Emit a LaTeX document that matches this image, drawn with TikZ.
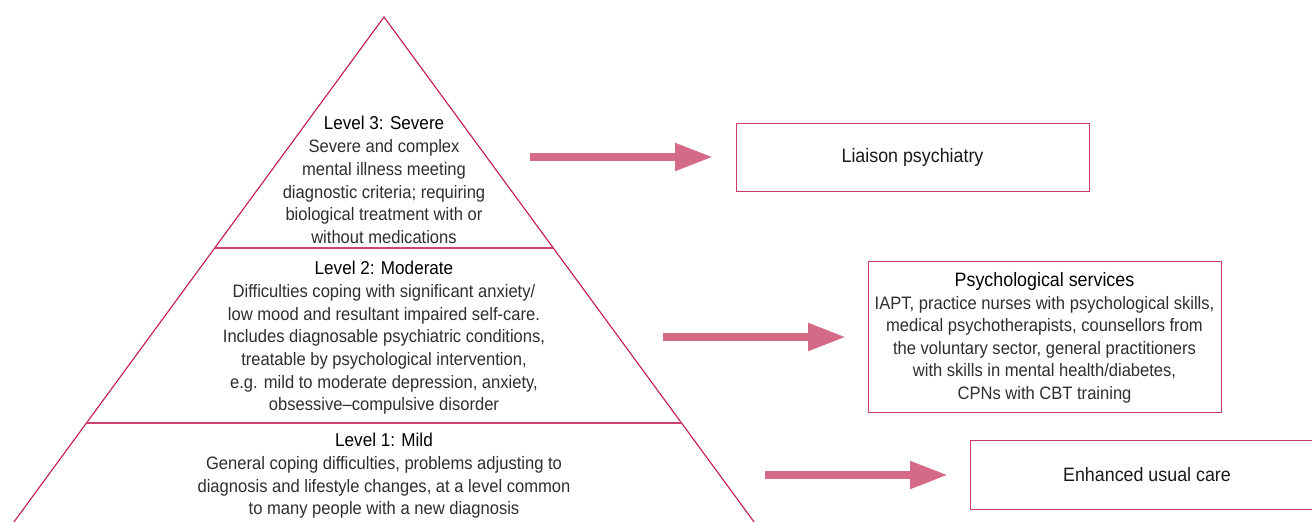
\documentclass[tikz,border=0pt]{standalone}
\usepackage{fontspec}
\setmainfont{Liberation Sans}[FakeStretch=0.92]
\usetikzlibrary{arrows.meta}
\definecolor{triline}{RGB}{198,24,78}
\definecolor{sepline}{RGB}{206,70,110}
\definecolor{arrowpink}{RGB}{212,106,136}
\definecolor{boxline}{RGB}{204,60,104}
\newcommand{\lvltitle}[1]{{\fontsize{18.6}{22.7}\selectfont\color{black}#1}}
\tikzset{
  leveltext/.style={align=center, font=\fontsize{18}{22.7}\selectfont, inner sep=0pt, text=black!82},
  boxtext/.style={align=center, font=\fontsize{18}{22.5}\selectfont, inner sep=0pt, text=black!82},
  bigboxtext/.style={align=center, font=\fontsize{19.4}{23}\selectfont, inner sep=0pt, text=black!90},
  svcbox/.style={draw=boxline, line width=1pt},
  blockarrow/.style={line width=8pt, draw=arrowpink, fill=arrowpink, -{Triangle[length=38pt,width=26pt]}},
}
\begin{document}
\begin{tikzpicture}[x=1pt,y=-1pt]
\useasboundingbox (0,0) rectangle (1312,522);
\clip (0,0) rectangle (1312,522);
% pyramid
\coordinate (apex) at (384,17);
\coordinate (bl) at (0,541);
\coordinate (br) at (768,541);
\draw[triline, line width=1.1pt] (bl) -- (apex) -- (br);
\coordinate (s2l) at (215,248);
\coordinate (s2r) at (553,248);
\coordinate (s1l) at (86,423);
\coordinate (s1r) at (682,423);
\draw[sepline, line width=1.6pt] (s2l) -- (s2r);
\draw[sepline, line width=1.6pt] (s1l) -- (s1r);
% level texts
\node[leveltext] (l3) at (384,180) {\lvltitle{Level 3: Severe}\\Severe and complex\\mental illness meeting\\diagnostic criteria; requiring\\biological treatment with or\\without medications};
\node[leveltext] (l2) at (384,338) {\lvltitle{Level 2: Moderate}\\Difficulties coping with significant anxiety/\\low mood and resultant impaired self-care.\\Includes diagnosable psychiatric conditions,\\treatable by psychological intervention,\\e.g. mild to moderate depression, anxiety,\\obsessive--compulsive disorder};
\node[leveltext] (l1) at (384,476) {\lvltitle{Level 1: Mild}\\General coping difficulties, problems adjusting to\\diagnosis and lifestyle changes, at a level common\\to many people with a new diagnosis};
% boxes
\draw[svcbox] (736,123) rectangle (1089,191);
\node[bigboxtext] (b3) at (912.5,157) {Liaison psychiatry};
\draw[svcbox] (868,261) rectangle (1221,412);
\node[boxtext] (b2) at (1044.5,338) {{\fontsize{19.4}{22.5}\selectfont\color{black}Psychological services}\\IAPT, practice nurses with psychological skills,\\medical psychotherapists, counsellors from\\the voluntary sector, general practitioners\\with skills in mental health/diabetes,\\CPNs with CBT training};
\draw[svcbox] (970,440) rectangle (1330,509);
\node[bigboxtext] (b1) at (1147,475) {Enhanced usual care};
% arrows
\coordinate (a3s) at (530,157);
\coordinate (a3e) at (713,157);
\coordinate (a2s) at (663,337);
\coordinate (a2e) at (846,337);
\coordinate (a1s) at (765,475);
\coordinate (a1e) at (948,475);
\draw[blockarrow] (a3s) -- (a3e);
\draw[blockarrow] (a2s) -- (a2e);
\draw[blockarrow] (a1s) -- (a1e);
\end{tikzpicture}
\end{document}
